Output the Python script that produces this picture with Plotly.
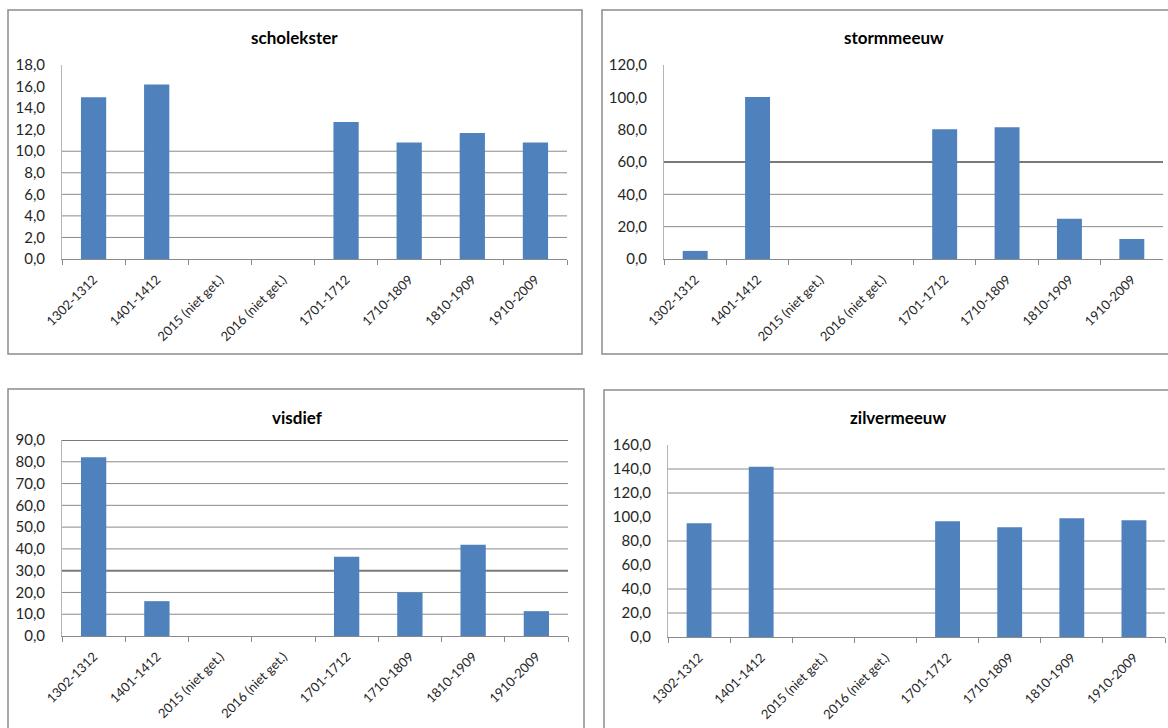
import plotly.graph_objects as go

# Counting periods (x categories)
categories = [
    "1302-1312", "1401-1412", "2015 (niet get.)", "2016 (niet get.)",
    "1701-1712", "1710-1809", "1810-1909", "1910-2009",
]

# Counts per species (None = not counted)
scholekster = [15.0, 16.2, None, None, 12.7, 10.8, 11.7, 10.8]
stormmeeuw = [5.0, 100.2, None, None, 80.3, 81.5, 24.9, 12.4]
visdief = [82.1, 16.0, None, None, 36.4, 20.0, 41.9, 11.4]
zilvermeeuw = [94.8, 141.9, None, None, 96.4, 91.5, 98.9, 97.2]

species = ["scholekster", "stormmeeuw", "visdief", "zilvermeeuw"]
series = [scholekster, stormmeeuw, visdief, zilvermeeuw]
y_max = [18, 120, 90, 160]
y_step = [2, 20, 10, 20]

W, H = 1168, 728
BAR = "#4F81BD"
GRID = "#8a8a8a"
TEXT = "#262626"
FONT = "Lato, 'Open Sans', sans-serif"

# Pixel layout of each chart: plot box, outer frame, title centre, grid levels
panels = [
    dict(plot=(62, 65, 567, 259), frame=(8, 10, 582, 354), title=(294, 37),
         grid=[2, 4, 6, 8, 10], heavy=[]),
    dict(plot=(664, 65, 1163, 259), frame=(602, 10, 1175, 354), title=(894, 37),
         grid=[20, 40, 60], heavy=[60]),
    dict(plot=(62, 440, 568, 636), frame=(8, 389, 584, 760), title=(297, 418),
         grid=[10, 20, 30, 40, 50, 60, 70, 80, 90], heavy=[30, 90]),
    dict(plot=(668, 445, 1165, 637), frame=(604, 390, 1175, 760), title=(898, 418),
         grid=[20, 40, 80, 120, 140], heavy=[]),
]


def px(x):
    return x / W


def py(y):
    return 1 - y / H


fig = go.Figure()
shapes = []
annotations = []

for i, (name, vals) in enumerate(zip(species, series)):
    n = i + 1
    xa = "x" if n == 1 else f"x{n}"
    ya = "y" if n == 1 else f"y{n}"
    p = panels[i]
    l, t, r, b = p["plot"]

    fig.add_trace(go.Bar(
        x=categories, y=vals, xaxis=xa, yaxis=ya,
        marker=dict(color=BAR, line=dict(width=0)),
        showlegend=False, hoverinfo="skip",
    ))

    fig.layout[f"xaxis{'' if n == 1 else n}"] = dict(
        domain=[px(l), px(r)], anchor=ya, type="category",
        range=[-0.5, len(categories) - 0.5], automargin=False,
        showgrid=False, zeroline=False,
        showline=True, linecolor=GRID, linewidth=1,
        ticks="outside", tickson="boundaries", ticklen=5,
        tickcolor=GRID, tickwidth=1, ticklabelstandoff=7,
        tickangle=-45, tickfont=dict(family=FONT, size=13, color=TEXT),
        fixedrange=True,
    )
    fig.layout[f"yaxis{'' if n == 1 else n}"] = dict(
        domain=[py(b), py(t)], anchor=xa, automargin=False,
        range=[0, y_max[i]], dtick=y_step[i], tick0=0,
        tickformat=".1f", showgrid=False, zeroline=False,
        showline=True, linecolor="#b4b4b4", linewidth=1,
        ticks="", ticklabelstandoff=13,
        tickfont=dict(family=FONT, size=15, color=TEXT),
        fixedrange=True,
    )

    # horizontal grid lines
    for g in p["grid"]:
        shapes.append(dict(
            type="line", xref=f"{xa} domain", yref=ya,
            x0=0, x1=1, y0=g, y1=g,
            line=dict(color=GRID if g not in p["heavy"] else "#7a7a7a",
                      width=2 if g in p["heavy"] else 1),
            layer="below",
        ))

    # chart frame
    fl, ft, fr, fb = p["frame"]
    shapes.append(dict(
        type="rect", xref="paper", yref="paper",
        x0=px(fl), x1=px(fr), y0=py(fb), y1=py(ft),
        line=dict(color="#8c8c8c", width=1.5), fillcolor="rgba(0,0,0,0)",
        layer="below",
    ))

    tx, ty = p["title"]
    annotations.append(dict(
        text=name, xref="paper", yref="paper", x=px(tx), y=py(ty),
        xanchor="center", yanchor="middle", showarrow=False,
        font=dict(family=FONT, size=17, color="#000000", weight="bold"),
    ))

fig.update_layout(
    width=W, height=H,
    margin=dict(l=0, r=0, t=0, b=0, autoexpand=False),
    paper_bgcolor="white", plot_bgcolor="rgba(0,0,0,0)",
    separators=",.",
    bargap=0.6,
    shapes=shapes,
    annotations=annotations,
    hovermode=False,
)

fig.write_html("out.html", config=dict(displayModeBar=False))
